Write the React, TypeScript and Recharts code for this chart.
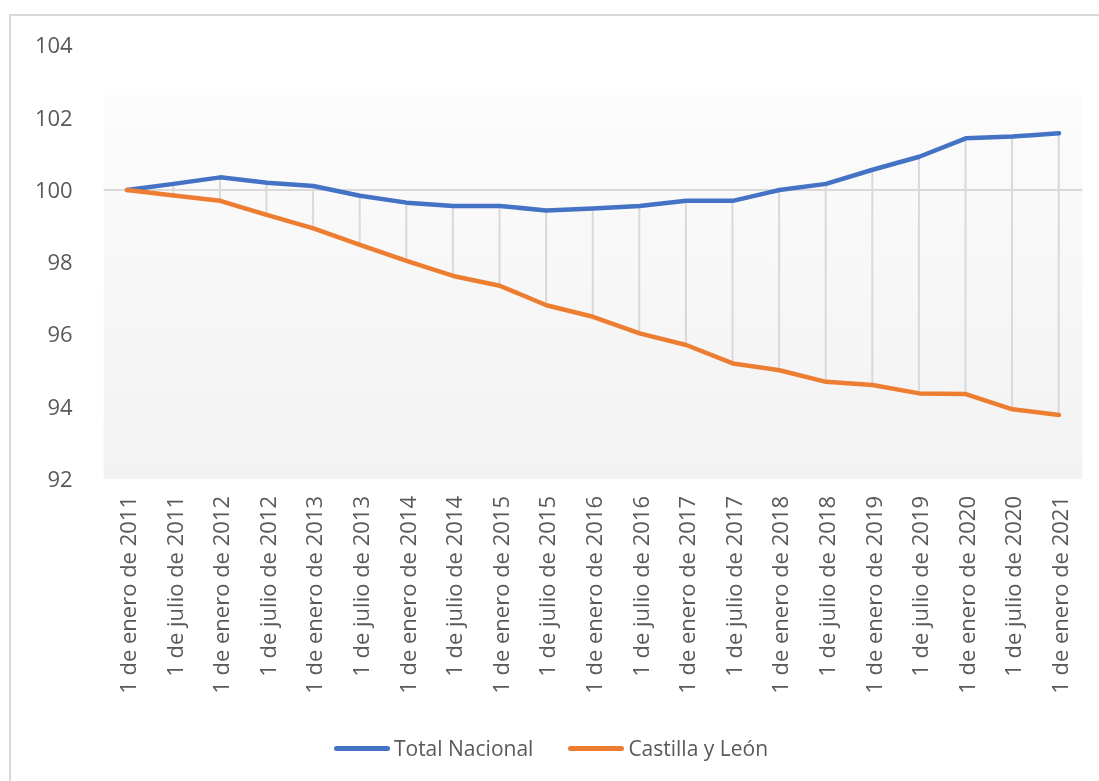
import React from "react";
import {
  ComposedChart,
  Line,
  Bar,
  XAxis,
  YAxis,
  CartesianGrid,
  ReferenceLine,
  Legend,
} from "recharts";

// Population index (1 de enero de 2011 = 100), half-yearly
const periods: string[] = [
  "1 de enero de 2011",
  "1 de julio de 2011",
  "1 de enero de 2012",
  "1 de julio de 2012",
  "1 de enero de 2013",
  "1 de julio de 2013",
  "1 de enero de 2014",
  "1 de julio de 2014",
  "1 de enero de 2015",
  "1 de julio de 2015",
  "1 de enero de 2016",
  "1 de julio de 2016",
  "1 de enero de 2017",
  "1 de julio de 2017",
  "1 de enero de 2018",
  "1 de julio de 2018",
  "1 de enero de 2019",
  "1 de julio de 2019",
  "1 de enero de 2020",
  "1 de julio de 2020",
  "1 de enero de 2021",
];

const totalNacional: number[] = [
  100.0, 100.17, 100.35, 100.2, 100.11, 99.84, 99.65, 99.56, 99.56, 99.43,
  99.49, 99.56, 99.7, 99.7, 100.0, 100.17, 100.56, 100.92, 101.43, 101.48,
  101.57,
];

const castillaYLeon: number[] = [
  100.0, 99.85, 99.7, 99.31, 98.94, 98.48, 98.04, 97.62, 97.35, 96.81, 96.49,
  96.03, 95.71, 95.2, 95.01, 94.69, 94.6, 94.37, 94.35, 93.93, 93.77,
];

const yTicks: number[] = [92, 94, 96, 98, 100, 102, 104];
const baseValue = 100;

const seriesOrder: string[] = ["Total Nacional", "Castilla y León"];

const data = periods.map((p, i) => ({
  period: p,
  total: totalNacional[i],
  cyl: castillaYLeon[i],
  range: [castillaYLeon[i], totalNacional[i]],
}));

const FONT = "'Open Sans', 'Noto Sans', sans-serif";
const TEXT = "#595959";
const BLUE = "#4472C4";
const ORANGE = "#ED7D31";
const GRID = "#d9d9d9";

const W = 1090;
const H = 767;

const XTick = (props: any) => {
  const { x, y, payload } = props;
  return (
    <text
      x={x}
      y={y}
      transform={`rotate(-90, ${x}, ${y})`}
      textAnchor="end"
      dominantBaseline="central"
      fontFamily={FONT}
      fontSize={22}
      fill={TEXT}
    >
      {payload.value}
    </text>
  );
};

const LegendContent = (props: any) => {
  const { payload } = props;
  const items = (payload || [])
    .filter((p: any) => p.type !== "none")
    .slice()
    .sort(
      (a: any, b: any) => seriesOrder.indexOf(a.value) - seriesOrder.indexOf(b.value)
    );
  return (
    <div
      style={{
        display: "flex",
        justifyContent: "center",
        alignItems: "center",
        gap: 35,
        fontFamily: FONT,
        fontSize: 21,
        color: TEXT,
        marginLeft: -6,
      }}
    >
      {items.map((it: any) => (
        <div key={it.value} style={{ display: "flex", alignItems: "center" }}>
          <div
            style={{
              width: 56,
              height: 5,
              borderRadius: 3,
              background: it.color,
              marginRight: 4,
            }}
          />
          <span>{it.value}</span>
        </div>
      ))}
    </div>
  );
};

export default function App() {
  return (
    <div
      style={{
        position: "fixed",
        left: 9,
        top: 14,
        width: W,
        height: H,
        overflow: "hidden",
      }}
    >
      <svg width={0} height={0} style={{ position: "absolute" }}>
        <defs>
          <linearGradient id="plotBg" x1="0" y1="0" x2="0" y2="1">
            <stop offset="0" stopColor="#ffffff" stopOpacity={0} />
            <stop offset="0.114" stopColor="#ffffff" stopOpacity={0} />
            <stop offset="0.114" stopColor="#fcfcfc" />
            <stop offset="1" stopColor="#f2f2f2" />
          </linearGradient>
        </defs>
      </svg>
      <ComposedChart
        width={W}
        height={H}
        data={data}
        accessibilityLayer={false}
        margin={{ top: 31.5, right: 16.7, left: 0, bottom: 72 }}
      >
        <CartesianGrid
          horizontal={false}
          vertical={false}
          fill="url(#plotBg)"
          stroke="none"
        />
        <XAxis
          dataKey="period"
          interval={0}
          axisLine={false}
          tickLine={false}
          tickSize={0}
          tickMargin={17}
          height={230}
          tick={<XTick />}
        />
        <YAxis
          domain={[92, 104]}
          ticks={yTicks}
          interval={0}
          axisLine={false}
          tickLine={false}
          tickSize={0}
          tickMargin={31}
          width={94.7}
          tick={{ fontFamily: FONT, fontSize: 22, fill: TEXT }}
        />
        <ReferenceLine y={baseValue} stroke={GRID} strokeWidth={2} />
        <Bar
          dataKey="range"
          barSize={2}
          fill={GRID}
          isAnimationActive={false}
          legendType="none"
        />
        <Line
          type="linear"
          dataKey="total"
          name={seriesOrder[0]}
          stroke={BLUE}
          strokeWidth={4.5}
          strokeLinejoin="round"
          strokeLinecap="round"
          dot={false}
          activeDot={false}
          isAnimationActive={false}
        />
        <Line
          type="linear"
          dataKey="cyl"
          name={seriesOrder[1]}
          stroke={ORANGE}
          strokeWidth={4.5}
          strokeLinejoin="round"
          strokeLinecap="round"
          dot={false}
          activeDot={false}
          isAnimationActive={false}
        />
        <Legend
          layout="horizontal"
          verticalAlign="middle"
          align="center"
          wrapperStyle={{ top: 720, left: 0, width: W }}
          content={<LegendContent />}
        />
      </ComposedChart>
      <div
        style={{
          position: "absolute",
          left: 0,
          top: 0,
          width: "100%",
          height: "100%",
          borderTop: `2px solid ${GRID}`,
          borderLeft: `2px solid ${GRID}`,
          boxSizing: "border-box",
          pointerEvents: "none",
        }}
      />
    </div>
  );
}
